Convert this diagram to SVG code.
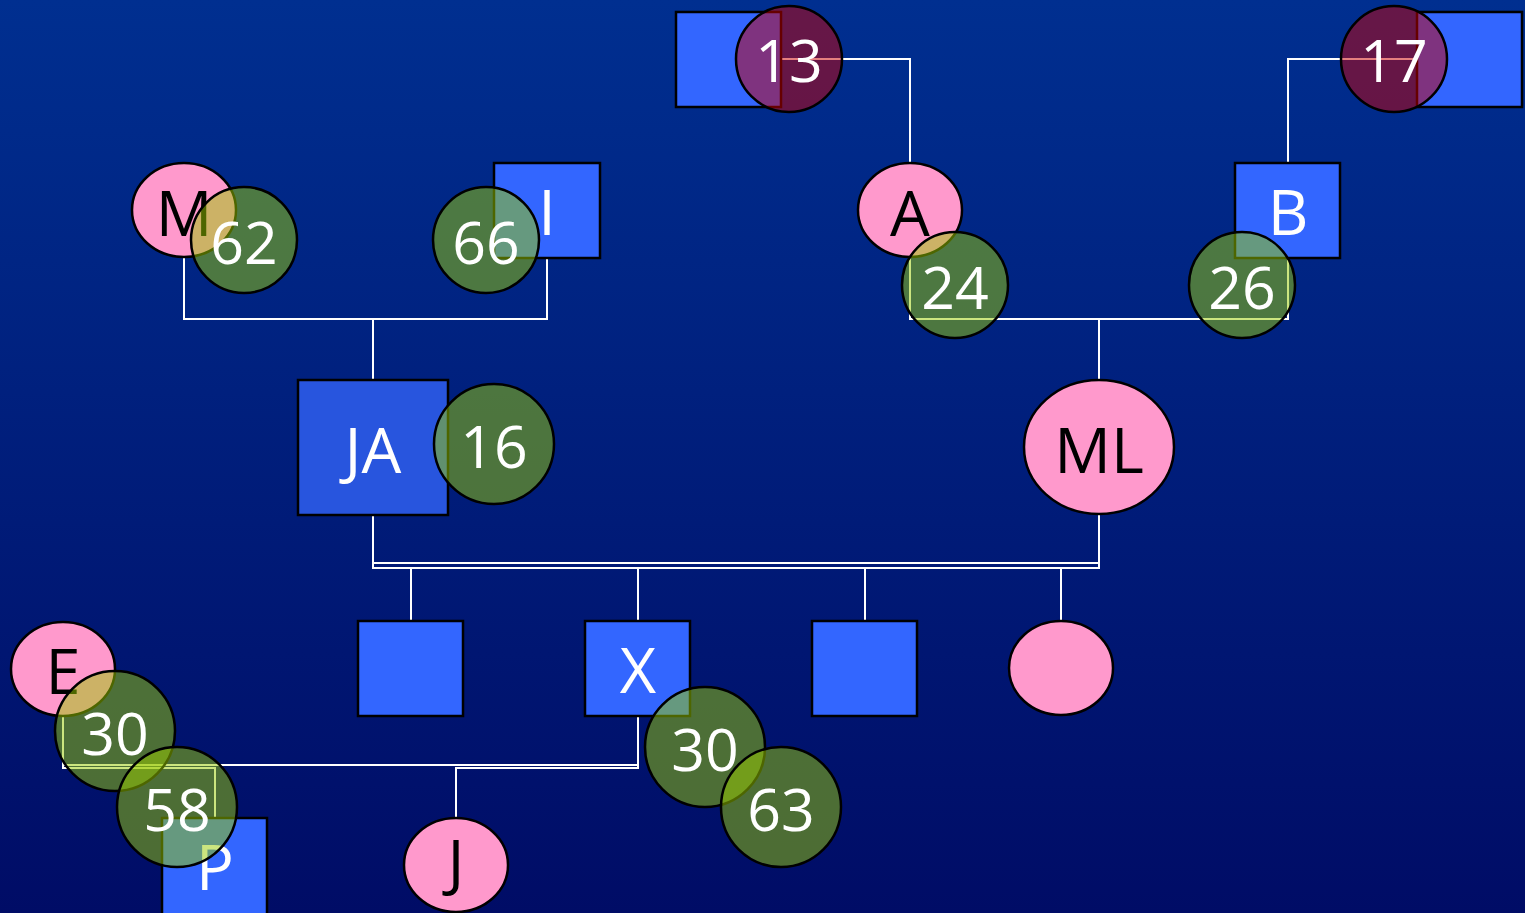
<svg xmlns="http://www.w3.org/2000/svg" width="1525" height="913" viewBox="0 0 1525 913">
<defs>
<linearGradient id="bg" x1="0" y1="0" x2="0" y2="1">
<stop offset="0" stop-color="#002F90"/>
<stop offset="1" stop-color="#000C66"/>
</linearGradient>
</defs>
<style>
.m{fill:#3366FF;stroke:#000;stroke-width:2.5}
.ja{fill:#2855DE;stroke:#000;stroke-width:2.5}
.f{fill:#FF99CC;stroke:#000;stroke-width:2.5}
.g{fill:#99CC00;fill-opacity:0.5;stroke:#000;stroke-width:2.5}
.r{fill:#CC0000;fill-opacity:0.5;stroke:#000;stroke-width:2.5}
.c{fill:none;stroke:#fff;stroke-width:2}
text{font-family:"Open Sans","DejaVu Sans",sans-serif;text-anchor:middle}
.lw{fill:#fff;font-size:63px}
.lb{fill:#000;font-size:63px}
.n{fill:#fff;font-size:59px}
</style>
<rect width="1525" height="913" fill="url(#bg)"/>
<g id="connectors">
<path class="c" d="M781,59 H910 V163"/>
<path class="c" d="M1417,59 H1288 V163"/>
<path class="c" d="M184,258 V319 H547 V258"/>
<path class="c" d="M373,319 V380"/>
<path class="c" d="M910,258 V319 H1288 V258"/>
<path class="c" d="M1099,319 V380"/>
<path class="c" d="M373,515 V568 H1099 V515"/>
<path class="c" d="M373,563 H1099"/>
<path class="c" d="M411,568 V621"/>
<path class="c" d="M638,568 V621"/>
<path class="c" d="M865,568 V621"/>
<path class="c" d="M1061,568 V621"/>
<path class="c" d="M63,716 V768 H215 V818"/>
<path class="c" d="M63,765 H638"/>
<path class="c" d="M638,716 V768 H456 V818"/>
</g>
<g id="node-gf-a"><rect class="m" x="676" y="12" width="105" height="95"/></g>
<g id="node-gf-b"><rect class="m" x="1417" y="12" width="105" height="95"/></g>
<g id="node-M"><ellipse class="f" cx="184" cy="210" rx="52" ry="47"/><text class="lb" x="184" y="236">M</text></g>
<g id="node-I"><rect class="m" x="494" y="163" width="106" height="95"/><text class="lw" x="547" y="235">I</text></g>
<g id="node-A"><ellipse class="f" cx="910" cy="210" rx="52" ry="47"/><text class="lb" x="910" y="236">A</text></g>
<g id="node-B"><rect class="m" x="1235" y="163" width="105" height="95"/><text class="lw" x="1288" y="235">B</text></g>
<g id="node-JA"><rect class="ja" x="298" y="380" width="150" height="135"/><text class="lw" x="373" y="473">JA</text></g>
<g id="node-ML"><ellipse class="f" cx="1099" cy="447" rx="75" ry="67"/><text class="lb" x="1099" y="473">ML</text></g>
<g id="node-c1"><rect class="m" x="358" y="621" width="105" height="95"/></g>
<g id="node-X"><rect class="m" x="585" y="621" width="105" height="95"/><text class="lw" x="638" y="693">X</text></g>
<g id="node-c3"><rect class="m" x="812" y="621" width="105" height="95"/></g>
<g id="node-c4"><ellipse class="f" cx="1061" cy="668" rx="52" ry="47"/></g>
<g id="node-E"><ellipse class="f" cx="63" cy="669" rx="52" ry="47"/><text class="lb" x="63" y="694">E</text></g>
<g id="node-J"><ellipse class="f" cx="456" cy="865" rx="52" ry="47"/><text class="lb" x="456" y="885">J</text></g>
<g id="node-P"><rect class="m" x="162" y="818" width="105" height="100"/><text class="lw" x="215" y="890">P</text></g>
<g id="age-13"><circle class="r" cx="789" cy="59" r="53"/><text class="n" x="789" y="82">13</text></g>
<g id="age-17"><circle class="r" cx="1394" cy="59" r="53"/><text class="n" x="1394" y="82">17</text></g>
<g id="age-62"><circle class="g" cx="244" cy="240" r="53"/><text class="n" x="244" y="264">62</text></g>
<g id="age-66"><circle class="g" cx="486" cy="240" r="53"/><text class="n" x="486" y="264">66</text></g>
<g id="age-24"><circle class="g" cx="955" cy="285" r="53"/><text class="n" x="955" y="309">24</text></g>
<g id="age-26"><circle class="g" cx="1242" cy="285" r="53"/><text class="n" x="1242" y="309">26</text></g>
<g id="age-16"><circle class="g" cx="494" cy="444" r="60"/><text class="n" x="494" y="468">16</text></g>
<g id="age-30x"><circle class="g" cx="705" cy="747" r="60"/><text class="n" x="705" y="771">30</text></g>
<g id="age-63"><circle class="g" cx="781" cy="807" r="60"/><text class="n" x="781" y="831">63</text></g>
<g id="age-30e"><circle class="g" cx="115" cy="731" r="60"/><text class="n" x="115" y="755">30</text></g>
<g id="age-58"><circle class="g" cx="177" cy="807" r="60"/><text class="n" x="177" y="831">58</text></g>
</svg>
